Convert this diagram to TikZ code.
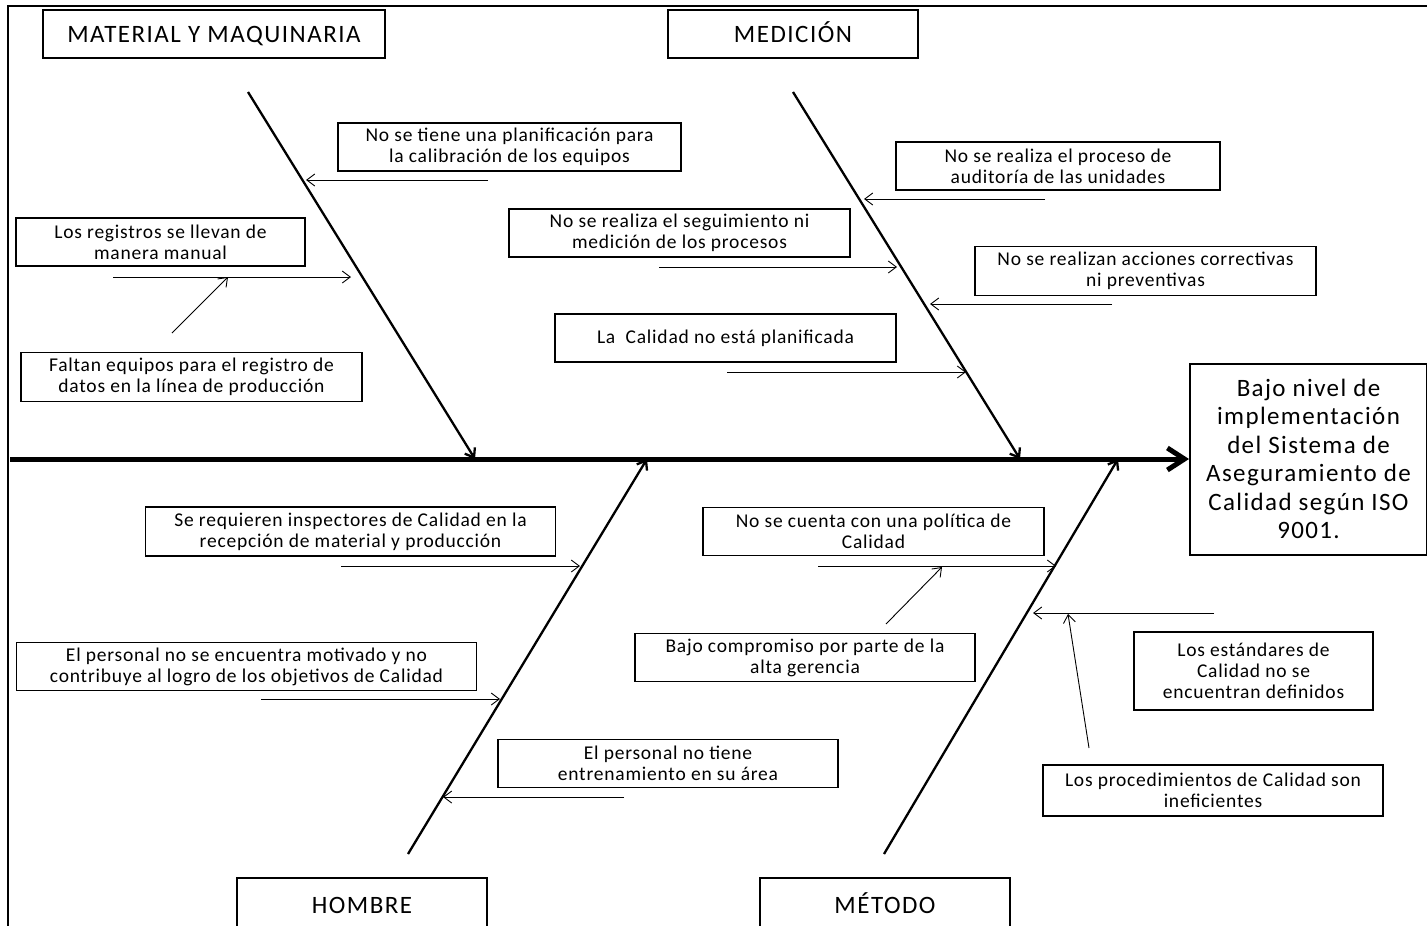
\documentclass[tikz,border=0pt]{standalone}
\usepackage{fontspec}
\setmainfont{Carlito}
\newfontfamily\causefont[LetterSpace=4]{Carlito}
\newfontfamily\catfont[LetterSpace=6]{Carlito}
\newfontfamily\effectfont[LetterSpace=5.5]{Carlito}
\usetikzlibrary{arrows.meta}
\begin{document}
\begin{tikzpicture}[x=1pt,y=-1pt,
  frameline/.style={line width=1.6pt},
  catbox/.style={draw, line width=2pt, inner sep=0pt, text height=20pt, text depth=4pt,
    font=\catfont\fontsize{25}{28}\selectfont},
  causebox/.style={draw, line width=1.8pt, inner sep=0pt, align=center,
    font=\causefont\fontsize{19.5}{21}\selectfont},
  effectbox/.style={draw, line width=2pt, inner sep=0pt, align=center,
    font=\effectfont\fontsize{25}{28.5}\selectfont},
  spine/.style={line width=5pt, -{Straight Barb[length=17pt,width=22pt]}},
  bone/.style={line width=2.3pt, -{Straight Barb[length=8pt,width=12pt]}},
  causearrow/.style={line width=0.9pt, -{Straight Barb[length=8pt,width=12pt]}}]
\useasboundingbox (0,0) rectangle (1427,926);

% outer frame (only top and left edges are visible)
\draw[frameline] (8,926) -- (8,6) -- (1427,6);

% category headers
\node[catbox, minimum width=342pt, minimum height=48pt] (mat) at (214,34) {MATERIAL Y MAQUINARIA};
\node[catbox, minimum width=250pt, minimum height=48pt] (med) at (793,34) {MEDICIÓN};
\node[catbox, minimum width=250pt, minimum height=54pt] (hom) at (362,905) {HOMBRE};
\node[catbox, minimum width=250pt, minimum height=54pt] (met) at (885,905) {MÉTODO};

% effect
\node[effectbox, minimum width=237pt, minimum height=191pt] (effect) at (1308.5,459)
  {Bajo nivel de\\implementación\\del Sistema de\\Aseguramiento de\\Calidad según ISO\\9001.};

% spine
\coordinate (spinestart) at (10,459);
\draw[spine] (spinestart) -- (effect.west);

% main bones
\coordinate (matA) at (248,92);   \coordinate (matB) at (475,459);
\coordinate (medA) at (793,92);   \coordinate (medB) at (1020,459);
\coordinate (homA) at (408,854);  \coordinate (homB) at (647,459);
\coordinate (metA) at (884,854);  \coordinate (metB) at (1118,459);
\draw[bone] (matA) -- (matB);
\draw[bone] (medA) -- (medB);
\draw[bone] (homA) -- (homB);
\draw[bone] (metA) -- (metB);

% causes: MATERIAL Y MAQUINARIA
\node[causebox, minimum width=343pt, minimum height=48pt] (ca) at (509.5,147)
  {No se tiene una planificación para\\la calibración de los equipos};
\node[causebox, minimum width=289pt, minimum height=48pt] (cb) at (160.5,242)
  {Los registros se llevan de\\manera manual};
\node[causebox, minimum width=341pt, minimum height=49pt] (cc) at (191.5,377)
  {Faltan equipos para el registro de\\datos en la línea de producción};

% causes: MEDICIÓN
\node[causebox, minimum width=324pt, minimum height=48pt] (cd) at (1058,166)
  {No se realiza el proceso de\\auditoría de las unidades};
\node[causebox, minimum width=341pt, minimum height=48pt] (ce) at (679.5,233)
  {No se realiza el seguimiento ni\\medición de los procesos};
\node[causebox, minimum width=341pt, minimum height=49pt] (cf) at (1145.5,271)
  {No se realizan acciones correctivas\\ni preventivas};
\node[causebox, minimum width=341pt, minimum height=48pt] (cg) at (725.5,338)
  {La\ \ Calidad no está planificada};

% causes: HOMBRE
\node[causebox, minimum width=410pt, minimum height=49pt] (ch) at (350.5,531.5)
  {Se requieren inspectores de Calidad en la\\recepción de material y producción};
\node[causebox, minimum width=460pt, minimum height=48pt] (ci) at (246.5,666.5)
  {El personal no se encuentra motivado y no\\contribuye al logro de los objetivos de Calidad};
\node[causebox, minimum width=340pt, minimum height=48pt] (cj) at (668,763.5)
  {El personal no tiene\\entrenamiento en su área};

% causes: MÉTODO
\node[causebox, minimum width=341pt, minimum height=48pt] (ck) at (873.5,531.5)
  {No se cuenta con una política de\\Calidad};
\node[causebox, minimum width=340pt, minimum height=48pt] (cl) at (805,657.5)
  {Bajo compromiso por parte de la\\alta gerencia};
\node[causebox, minimum width=239pt, minimum height=78pt] (cm) at (1253.5,671)
  {Los estándares de\\Calidad no se\\encuentran definidos};
\node[causebox, minimum width=340pt, minimum height=51pt] (cn) at (1213,790.5)
  {Los procedimientos de Calidad son\\ineficientes};

% cause arrow end points
\coordinate (aS) at (488,180);  \coordinate (aE) at (306,180);
\coordinate (bS) at (113,277);  \coordinate (bE) at (351,277);
\coordinate (cS) at (172,333);  \coordinate (cE) at (228,277);
\coordinate (dS) at (1045,199); \coordinate (dE) at (864,199);
\coordinate (eS) at (659,267);  \coordinate (eE) at (897,267);
\coordinate (fS) at (1112,304); \coordinate (fE) at (930,304);
\coordinate (gS) at (727,372);  \coordinate (gE) at (966,372);
\coordinate (hS) at (341,566);  \coordinate (hE) at (580,566);
\coordinate (iS) at (261,699);  \coordinate (iE) at (500,699);
\coordinate (jS) at (624,797);  \coordinate (jE) at (443,797);
\coordinate (kS) at (818,566);  \coordinate (kE) at (1056,566);
\coordinate (lS) at (886,624);  \coordinate (lE) at (942,567);
\coordinate (mS) at (1214,613); \coordinate (mE) at (1033,613);
\coordinate (nS) at (1089,748); \coordinate (nE) at (1068,614);

\foreach \c in {a,b,c,d,e,f,g,h,i,j,k,l,m,n}
  \draw[causearrow] (\c S) -- (\c E);
\end{tikzpicture}
\end{document}
